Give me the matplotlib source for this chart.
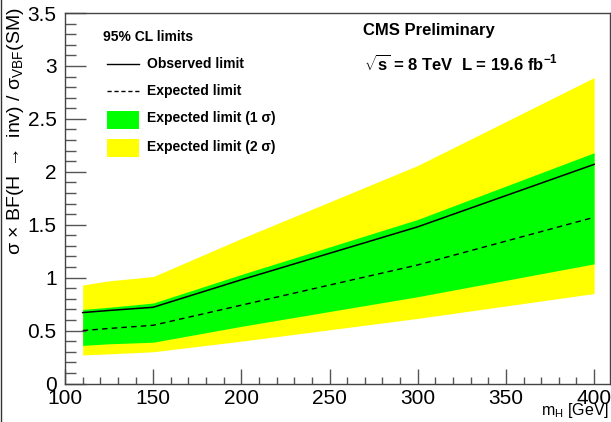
import matplotlib
matplotlib.use('Agg')
import matplotlib.pyplot as plt
from matplotlib.lines import Line2D
from matplotlib.patches import Rectangle
from matplotlib.ticker import MultipleLocator

plt.rcParams['font.family'] = ['Liberation Sans', 'DejaVu Sans']
plt.rcParams['mathtext.fontset'] = 'custom'
plt.rcParams['mathtext.rm'] = 'Liberation Sans'
plt.rcParams['mathtext.bf'] = 'Liberation Sans:bold'

# Higgs mass points and 95% CL limits on sigma x BF(H->inv) / sigma_VBF(SM)
masses = [110, 125, 150, 200, 300, 400]
observed = [0.67, 0.69, 0.72, 0.98, 1.48, 2.07]
expected = [0.50, 0.52, 0.55, 0.74, 1.12, 1.57]
band1_lo = [0.36, 0.375, 0.39, 0.54, 0.82, 1.13]
band1_hi = [0.70, 0.72, 0.76, 1.03, 1.55, 2.18]
band2_lo = [0.27, 0.28, 0.30, 0.40, 0.615, 0.85]
band2_hi = [0.93, 0.97, 1.01, 1.37, 2.06, 2.89]

W, H = 611, 422
fig = plt.figure(figsize=(W / 100, H / 100), dpi=100)
ax = fig.add_axes([65 / W, 1 - 383.5 / H, 545 / W, 370.5 / H])


def px(x, y):
    # canvas pixel -> figure fraction
    return x / W, 1 - y / H


ax.fill_between(masses, band2_lo, band2_hi, color='#ffff00', lw=0)
ax.fill_between(masses, band1_lo, band1_hi, color='#00ff00', lw=0)
ax.plot(masses, expected, color='black', lw=1, ls=(0, (4, 3)))
ax.plot(masses, observed, color='black', lw=1.1)

ax.set_xlim(100, 409)
ax.set_ylim(0, 3.5)
ax.xaxis.set_major_locator(MultipleLocator(50))
ax.xaxis.set_minor_locator(MultipleLocator(10))
ax.yaxis.set_major_locator(MultipleLocator(0.5))
ax.yaxis.set_minor_locator(MultipleLocator(0.1))
ax.yaxis.set_major_formatter(matplotlib.ticker.FuncFormatter(lambda v, p: f'{v:g}'))

for s in ax.spines.values():
    s.set_color('#444444')
    s.set_linewidth(1)
ax.tick_params(which='both', direction='in', colors='#555555', labelcolor='black',
               labelsize=15, top=False, right=False)
ax.tick_params(axis='x', which='major', length=11, width=1, pad=4)
ax.tick_params(axis='x', which='minor', length=5, width=1)
ax.tick_params(axis='y', which='major', length=15, width=1, pad=6)
ax.tick_params(axis='y', which='minor', length=8, width=1)

fig.text(*px(16, 7), r'σ × BF(H $\rightarrow$ inv) / σ$_{\rm VBF}$(SM)', rotation=90,
         fontsize=14, ha='center', va='top')
fig.text(*px(609, 411), r'm$_{\rm H}$ [GeV]', fontsize=11.5, ha='right', va='center')

# legend drawn by hand, ROOT style
fig.text(*px(103, 37), '95% CL limits', fontsize=10, fontweight='bold', va='center')
fig.add_artist(Line2D([107 / W, 139 / W], [1 - 63.5 / H] * 2, color='black', lw=1))
fig.text(*px(147, 63.5), 'Observed limit', fontsize=10, fontweight='bold', va='center')
fig.add_artist(Line2D([107 / W, 139 / W], [1 - 91 / H] * 2, color='black', lw=1,
                      ls=(0, (3, 2))))
fig.text(*px(147, 91), 'Expected limit', fontsize=10, fontweight='bold', va='center')
fig.add_artist(Rectangle(px(107, 128.5), 32 / W, 18 / H, color='#00ff00', lw=0))
fig.text(*px(147, 118.5), 'Expected limit (1 σ)', fontsize=10, fontweight='bold',
         va='center')
fig.add_artist(Rectangle(px(107, 156.5), 32 / W, 18 / H, color='#ffff00', lw=0))
fig.text(*px(147, 146.5), 'Expected limit (2 σ)', fontsize=10, fontweight='bold',
         va='center')

fig.text(*px(363, 31), 'CMS Preliminary', fontsize=12, fontweight='bold', va='center')
fig.text(*px(364, 64), r'$\mathbf{\sqrt{s}}$' + ' = 8 TeV  L = 19.6 fb' +
         r'$^{\mathbf{-1}}$', fontsize=12, fontweight='bold', va='center')

fig.add_artist(Line2D([0.5 / W, 0.5 / W], [0, 1], color='#333333', lw=1))

fig.savefig('out.png', dpi=100)
